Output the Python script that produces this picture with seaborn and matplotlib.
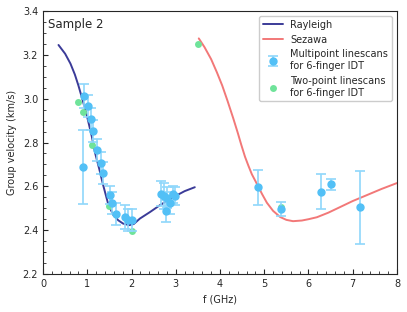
import numpy as np
import pandas as pd
import seaborn as sns
import matplotlib.pyplot as plt
from matplotlib.ticker import MultipleLocator, FormatStrFormatter

# Dispersion curves
rayleigh_f = [0.35, 0.50, 0.62, 0.72, 0.80, 0.90, 1.00, 1.10, 1.18, 1.27, 1.36, 1.48,
              1.59, 1.70, 1.81, 1.95, 2.05, 2.19, 2.42, 2.65, 2.94, 3.20, 3.43]
rayleigh_v = [3.245, 3.205, 3.16, 3.11, 3.06, 2.99, 2.915, 2.83, 2.75, 2.68, 2.605, 2.514,
              2.469, 2.445, 2.43, 2.423, 2.428, 2.453, 2.483, 2.515, 2.55, 2.578, 2.596]

sezawa_f = [3.52, 3.65, 3.80, 3.93, 4.05, 4.17, 4.30, 4.40, 4.48, 4.565, 4.64, 4.72,
            4.85, 4.95, 5.06, 5.20, 5.36, 5.50, 5.65, 5.85, 6.00, 6.19, 6.45, 6.71,
            7.00, 7.32, 7.65, 8.00]
sezawa_v = [3.275, 3.235, 3.18, 3.12, 3.06, 2.99, 2.91, 2.845, 2.79, 2.735, 2.695, 2.655,
            2.605, 2.565, 2.525, 2.488, 2.46, 2.447, 2.441, 2.444, 2.45, 2.459, 2.48, 2.505,
            2.533, 2.56, 2.588, 2.615]

# Multipoint linescans (with error bars)
multi_f = [0.93, 1.01, 1.08, 1.14, 1.23, 1.30, 1.35, 0.90, 1.51, 1.57, 1.65, 1.86,
           1.91, 2.00, 2.66, 2.73, 2.81, 2.79, 2.87, 2.94, 2.99,
           4.85, 5.37, 6.28, 6.50, 7.16]
multi_v = [3.012, 2.966, 2.908, 2.853, 2.765, 2.707, 2.660, 2.688, 2.560, 2.522, 2.473, 2.461,
           2.446, 2.446, 2.567, 2.557, 2.549, 2.488, 2.522, 2.563, 2.557,
           2.595, 2.497, 2.575, 2.609, 2.504]
multi_err = [0.055, 0.05, 0.05, 0.05, 0.05, 0.05, 0.05, 0.17, 0.04, 0.05, 0.05, 0.056,
             0.05, 0.05, 0.058, 0.06, 0.05, 0.05, 0.05, 0.04, 0.04,
             0.08, 0.033, 0.08, 0.026, 0.167]

# Two-point linescans
two_f = [0.80, 0.90, 1.10, 1.48, 2.00, 3.50, 5.37]
two_v = [2.986, 2.937, 2.788, 2.511, 2.395, 3.249, 2.505]

sns.set_style("ticks", {"xtick.direction": "in", "ytick.direction": "in"})
plt.rcParams["font.family"] = ["DejaVu Sans"]
plt.rcParams["font.size"] = 7

fig = plt.figure(figsize=(4.07, 3.12), dpi=100)
ax = fig.add_axes([0.1057, 0.1218, 0.8697, 0.8429])

ray_df = pd.DataFrame({"f": rayleigh_f, "v": rayleigh_v})
sez_df = pd.DataFrame({"f": sezawa_f, "v": sezawa_v})
two_df = pd.DataFrame({"f": two_f, "v": two_v})

sns.lineplot(data=ray_df, x="f", y="v", ax=ax, color="#3b3b98", lw=1.4, sort=False,
             label="Rayleigh", zorder=2)
sns.lineplot(data=sez_df, x="f", y="v", ax=ax, color="#f27878", lw=1.4, sort=False,
             label="Sezawa", zorder=2)
sns.scatterplot(data=two_df, x="f", y="v", ax=ax, color="#6fe39a", s=25, linewidth=0,
                label="Two-point linescans\nfor 6-finger IDT", zorder=3)
ax.errorbar(multi_f, multi_v, yerr=multi_err, fmt="o", color="#52c0f6", ms=5,
            ecolor="#8fd7fb", elinewidth=1.2, capsize=3.8, capthick=1.2,
            label="Multipoint linescans\nfor 6-finger IDT", zorder=4)

ax.set_xlim(0, 8)
ax.set_ylim(2.2, 3.4)
ax.xaxis.set_major_locator(MultipleLocator(1))
ax.xaxis.set_minor_locator(MultipleLocator(0.2))
ax.yaxis.set_major_locator(MultipleLocator(0.2))
ax.yaxis.set_minor_locator(MultipleLocator(0.05))
ax.yaxis.set_major_formatter(FormatStrFormatter("%.1f"))
ax.tick_params(which="major", length=3.5, width=0.8, labelsize=7)
ax.tick_params(which="minor", length=2, width=0.6)
ax.set_xlabel("f (GHz)", fontsize=7)
ax.set_ylabel("Group velocity (km/s)", fontsize=7)
ax.text(0.015, 0.975, "Sample 2", transform=ax.transAxes, fontsize=8.5, va="top", ha="left")

handles, labels = ax.get_legend_handles_labels()
order = [labels.index(l) for l in ["Rayleigh", "Sezawa",
                                    "Multipoint linescans\nfor 6-finger IDT",
                                    "Two-point linescans\nfor 6-finger IDT"]]
ax.legend([handles[i] for i in order], [labels[i] for i in order], loc="upper right",
          fontsize=7, frameon=True, framealpha=1, edgecolor="#cccccc")

plt.savefig("out.png", dpi=100)
plt.close()
